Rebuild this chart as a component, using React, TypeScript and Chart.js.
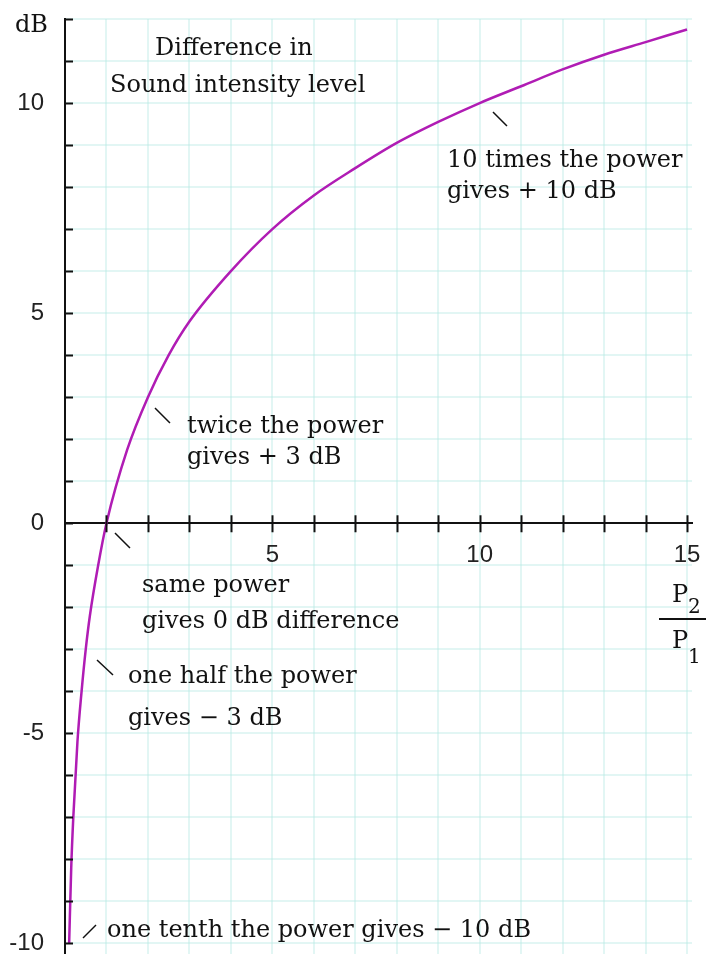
import React, { useEffect, useRef } from "react";
import { Chart, registerables } from "chart.js";

Chart.register(...registerables);

// Power ratio P2/P1 (x) and level difference in dB (y)
const powerRatios = [0.1, 0.15, 0.2, 0.3, 0.4, 0.5, 0.6, 0.8, 1, 1.5, 2, 2.5, 3, 4, 5, 6, 7, 8, 9, 10, 11, 12, 13, 14, 15];
const dbLevels = [-10, -8.2, -7, -5.2, -4, -3, -2.2, -1, 0, 1.75, 3, 4, 4.8, 6, 7, 7.8, 8.45, 9.05, 9.55, 10, 10.4, 10.8, 11.15, 11.45, 11.75];

const xTickLabels = [5, 10, 15];
const yTickLabels = [-10, -5, 0, 5, 10];

const SERIF = '"DejaVu Serif", serif';
const SANS = '"Liberation Sans", Arial, sans-serif';

const notes = [
  { text: "dB", x: 15, y: 32 },
  { text: "Difference in", x: 155, y: 55 },
  { text: "Sound intensity level", x: 110, y: 92 },
  { text: "10 times the power", x: 447, y: 167 },
  { text: "gives + 10 dB", x: 447, y: 198 },
  { text: "twice the power", x: 187, y: 433 },
  { text: "gives + 3 dB", x: 187, y: 464 },
  { text: "same power", x: 142, y: 592 },
  { text: "gives 0 dB difference", x: 142, y: 628 },
  { text: "one half the power", x: 128, y: 683 },
  { text: "gives \u2212 3 dB", x: 128, y: 725 },
  { text: "one tenth the power gives \u2212 10 dB", x: 107, y: 937 },
];

const pointers = [
  [493, 112, 507, 126],
  [155, 408, 170, 423],
  [115, 533, 130, 548],
  [97, 660, 113, 675],
  [83, 938, 96, 925],
];

const overlayPlugin = {
  id: "overlay",
  afterDraw(chart: any) {
    const ctx = chart.ctx;
    const xs = chart.scales.x;
    const ys = chart.scales.y;
    const area = chart.chartArea;
    ctx.save();
    ctx.strokeStyle = "#111";
    ctx.lineWidth = 2;
    const y0 = ys.getPixelForValue(0);
    for (let i = 1; i <= 15; i++) {
      const px = Math.round(xs.getPixelForValue(i)) + 0.5;
      ctx.beginPath();
      ctx.moveTo(px, y0 - 8);
      ctx.lineTo(px, y0 + 9);
      ctx.stroke();
    }
    for (let j = -10; j <= 12; j++) {
      const py = Math.round(ys.getPixelForValue(j)) + 0.5;
      ctx.beginPath();
      ctx.moveTo(area.left, py);
      ctx.lineTo(area.left + 8, py);
      ctx.stroke();
    }
    // pointer strokes
    ctx.lineWidth = 1.5;
    pointers.forEach(([a, b, c, d]) => {
      ctx.beginPath();
      ctx.moveTo(a, b);
      ctx.lineTo(c, d);
      ctx.stroke();
    });
    // notes
    ctx.fillStyle = "#111";
    ctx.textBaseline = "alphabetic";
    ctx.textAlign = "left";
    ctx.font = `24px ${SERIF}`;
    notes.forEach((n) => ctx.fillText(n.text, n.x, n.y));
    // fraction P2 / P1
    ctx.font = `24px ${SERIF}`;
    ctx.fillText("P", 672, 602);
    ctx.fillText("P", 672, 648);
    ctx.font = `20px ${SERIF}`;
    ctx.fillText("2", 688, 613);
    ctx.fillText("1", 688, 663);
    ctx.lineWidth = 2;
    ctx.beginPath();
    ctx.moveTo(659, 619);
    ctx.lineTo(706, 619);
    ctx.stroke();
    ctx.restore();
  },
};

export default function App() {
  const ref = useRef<HTMLCanvasElement | null>(null);

  useEffect(() => {
    document.body.style.margin = "0";
    const canvas = ref.current;
    if (!canvas) return;
    const points = powerRatios.map((x, i) => ({ x, y: dbLevels[i] }));
    const gridColor = "rgba(175,230,225,0.36)";
    const chart = new Chart(canvas, {
      type: "line",
      data: {
        datasets: [
          {
            data: points,
            borderColor: "#b01cb4",
            borderWidth: 2.5,
            pointRadius: 0,
            cubicInterpolationMode: "monotone",
            fill: false,
          },
        ],
      },
      options: {
        animation: false,
        responsive: true,
        maintainAspectRatio: false,
        layout: { padding: { left: 0, right: 14, top: 19, bottom: 0 } },
        plugins: { legend: { display: false }, tooltip: { enabled: false }, title: { display: false } },
        scales: {
          x: {
            type: "linear",
            position: { y: 0 } as any,
            min: 0,
            max: 15.12,
            afterBuildTicks: (s: any) => {
              s.ticks = s.ticks.filter((t: any) => Number.isInteger(t.value));
            },
            afterFit: (s: any) => {
              s.height = 0;
              s.paddingLeft = 0;
              s.paddingRight = 0;
              s.paddingTop = 0;
              s.paddingBottom = 0;
            },
            ticks: {
              stepSize: 1,
              includeBounds: false,
              autoSkip: false,
              maxRotation: 0,
              padding: 18,
              color: "#222",
              font: { family: SANS, size: 24 },
              callback: (v: any) => (xTickLabels.includes(Number(v)) ? String(v) : ""),
            },
            grid: { color: gridColor, lineWidth: 2, drawTicks: false },
            border: { display: true, color: "#111", width: 2 },
          },
          y: {
            type: "linear",
            position: "left",
            min: -10.25,
            max: 12,
            afterBuildTicks: (s: any) => {
              s.ticks = s.ticks.filter((t: any) => Number.isInteger(t.value));
            },
            afterFit: (s: any) => {
              s.width = 65;
              s.paddingTop = 0;
              s.paddingBottom = 0;
              s.paddingLeft = 0;
              s.paddingRight = 0;
            },
            ticks: {
              stepSize: 1,
              includeBounds: false,
              autoSkip: false,
              padding: 21,
              color: "#222",
              font: { family: SANS, size: 24 },
              callback: (v: any) => (yTickLabels.includes(Number(v)) ? String(v) : ""),
            },
            grid: { color: gridColor, lineWidth: 2, drawTicks: false },
            border: { display: true, color: "#111", width: 2 },
          },
        },
      },
      plugins: [overlayPlugin],
    });
    return () => chart.destroy();
  }, []);

  return (
    <div style={{ position: "fixed", left: 0, top: 0, width: 706, height: 954, background: "#fff" }}>
      <canvas ref={ref} />
    </div>
  );
}
